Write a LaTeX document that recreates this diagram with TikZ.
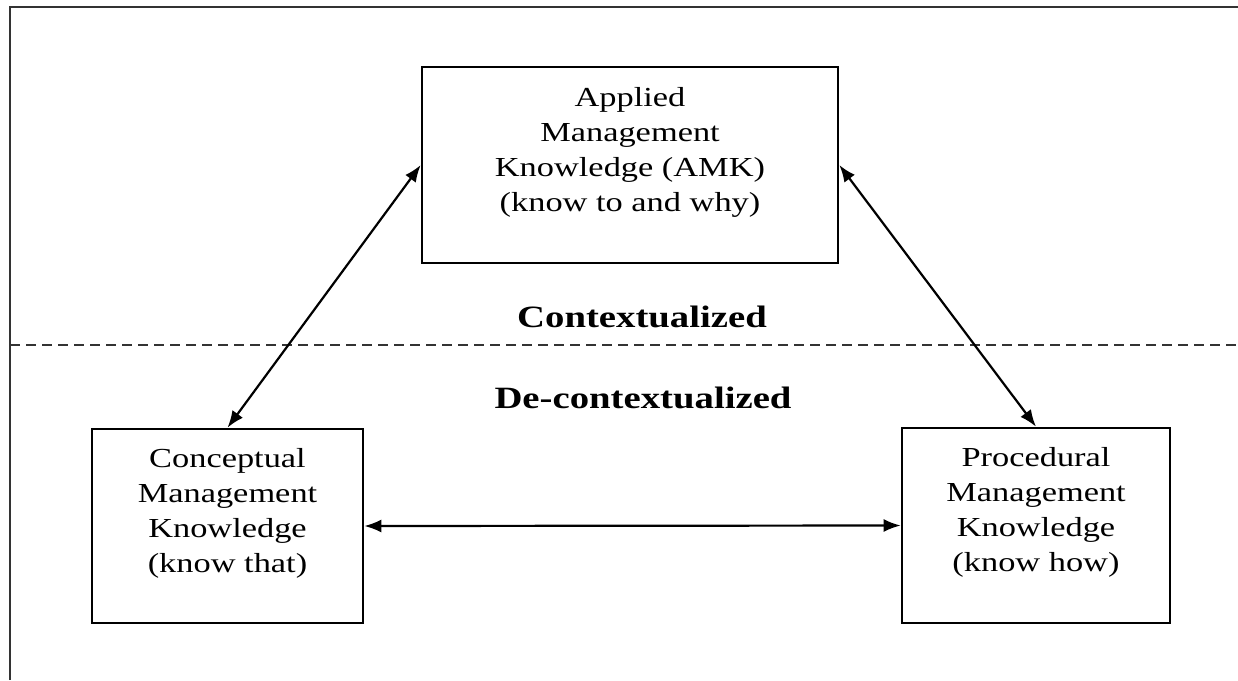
\documentclass[tikz,border=0pt]{standalone}
\usepackage{fontspec}
\setmainfont{Liberation Serif}[FakeStretch=1.25]
\usetikzlibrary{arrows.meta}

\newcommand{\boxpad}{\rule[-32pt]{0pt}{0pt}}

\begin{document}
\begin{tikzpicture}[x=1pt,y=-1pt,<->,>={Latex[length=17pt,width=13pt]},
  line width=2.2pt,
  know box/.style={rectangle,draw,line width=2.6pt,align=center,inner sep=0pt,
    font=\fontsize{27.5}{35}\selectfont},
  zone label/.style={anchor=base,font=\fontsize{31}{38}\selectfont\bfseries}]

  \useasboundingbox (0,0) rectangle (1238,680);
  \draw[-,line width=2.8pt,black!80] (10,680) |- (1238,7);
  \draw[-,line width=2.4pt,dash pattern=on 10pt off 6pt,black!80] (10,345) -- (1238,345);

  \node[know box,minimum width=416pt,minimum height=196pt] (amk) at (630,165)
    {Applied\\Management\\Knowledge (AMK)\\(know to and why)\boxpad};
  \node[know box,minimum width=271pt,minimum height=194pt] (cmk) at (227.5,526)
    {Conceptual\\Management\\Knowledge\\(know that)\boxpad};
  \node[know box,minimum width=268pt,minimum height=195pt] (pmk) at (1036,525.5)
    {Procedural\\Management\\Knowledge\\(know how)\boxpad};

  \node[zone label] (ctx) at (642,327) {Contextualized};
  \node[zone label] (dectx) at (643,408) {De-contextualized};

  \path
    (amk.west) edge (cmk.north)
    (amk.east) edge (pmk.north)
    (cmk.east) edge (pmk.west) ;

\end{tikzpicture}
\end{document}
